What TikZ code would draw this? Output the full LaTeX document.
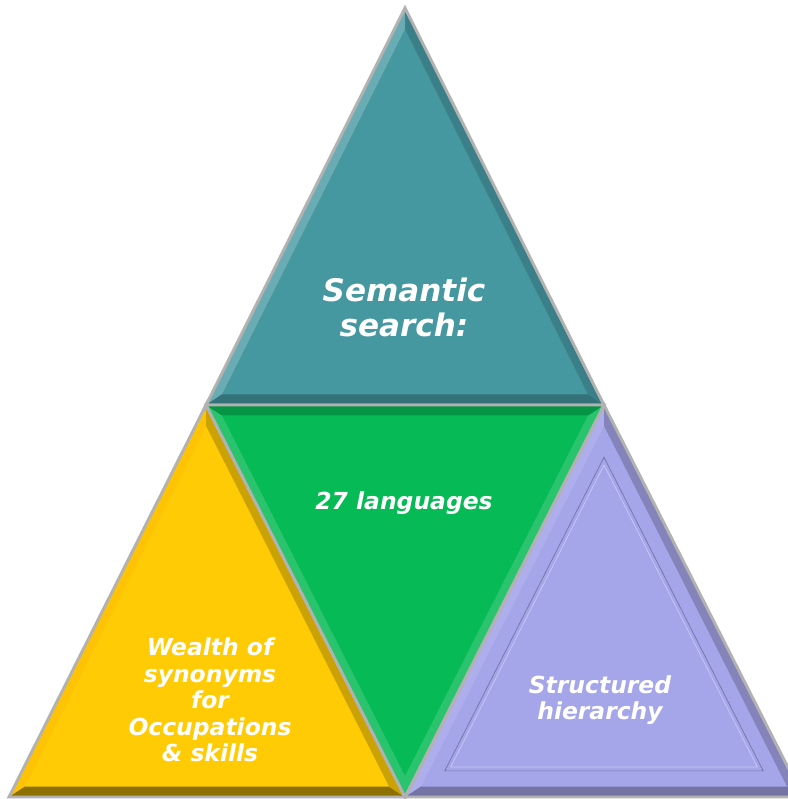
\documentclass[tikz,border=0pt]{standalone}
\usepackage{fontspec}
\setmainfont{DejaVu Sans}
\usetikzlibrary{calc}
\definecolor{semantic}{RGB}{69,151,160}
\definecolor{languages}{RGB}{6,186,85}
\definecolor{synonyms}{RGB}{254,203,4}
\definecolor{hierarchy}{RGB}{165,165,234}
\tikzstyle{edge}=[draw=gray!60, line width=2.5pt, line join=miter]
\tikzstyle{facettext}=[text=white, font=\bfseries\itshape, align=center]
\tikzstyle{big}=[facettext, font=\fontsize{26.5}{30}\selectfont\bfseries\itshape]
\tikzstyle{small}=[facettext, font=\fontsize{20}{22.7}\selectfont\bfseries\itshape]
% one bevelled triangle: prefix, fill, three corners, shade of each side
\newcommand\facet[8]{%
  \coordinate (#1c) at (barycentric cs:#3=1,#4=1,#5=1);
  \coordinate (#1a) at ($(#3)!0.08!(#1c)$);
  \coordinate (#1b) at ($(#4)!0.08!(#1c)$);
  \coordinate (#1d) at ($(#5)!0.08!(#1c)$);
  \fill[#2] (#3) -- (#4) -- (#5) -- cycle;
  \fill[#6] (#3) -- (#4) -- (#1b) -- (#1a) -- cycle;
  \fill[#7] (#4) -- (#5) -- (#1d) -- (#1b) -- cycle;
  \fill[#8] (#5) -- (#3) -- (#1a) -- (#1d) -- cycle;
  \draw[edge] (#3) -- (#4) -- (#5) -- cycle;
}
\begin{document}
\begin{tikzpicture}[x=0.03cm,y=-0.03cm]
  \useasboundingbox (0,0) rectangle (788,799);
  \clip (0,0) rectangle (788,799);

  \coordinate (top) at (405,8);
  \coordinate (midL) at (206,405);
  \coordinate (midR) at (604,405);
  \coordinate (botL) at (9,797);
  \coordinate (botM) at (405,797);
  \coordinate (botR) at (803,797);

  %% the four facets
  \facet{t}{semantic}{top}{midL}{midR}{semantic!80!white}{semantic!75!black}{semantic!85!black}
  \facet{y}{synonyms}{midL}{botL}{botM}{synonyms!90!orange}{synonyms!55!black}{synonyms!80!black}
  \facet{p}{hierarchy}{midR}{botM}{botR}{hierarchy!90!white}{hierarchy!70!black}{hierarchy!80!black}
  \facet{g}{languages}{midL}{botM}{midR}{languages!85!white}{languages!85!white}{languages!80!black}

  %% inner frame of the purple facet
  \draw[hierarchy!70!black, line width=0.6pt] ($(midR)!0.2!(pc)$) -- ($(botM)!0.2!(pc)$) -- ($(botR)!0.2!(pc)$) -- cycle;
  \draw[hierarchy!60!white, line width=0.6pt] ($(midR)!0.23!(pc)$) -- ($(botM)!0.23!(pc)$) -- ($(botR)!0.23!(pc)$) -- cycle;

  %% texts
  \draw (404,307) node[big] (search) {Semantic\\search:};
  \draw (404,503) node[small] (langs) {27 languages};
  \draw (210,700) node[small] (wealth) {Wealth of\\synonyms\\for\\Occupations\\\& skills};
  \draw (600,700) node[small] (struct) {Structured\\hierarchy};
\end{tikzpicture}
\end{document}
